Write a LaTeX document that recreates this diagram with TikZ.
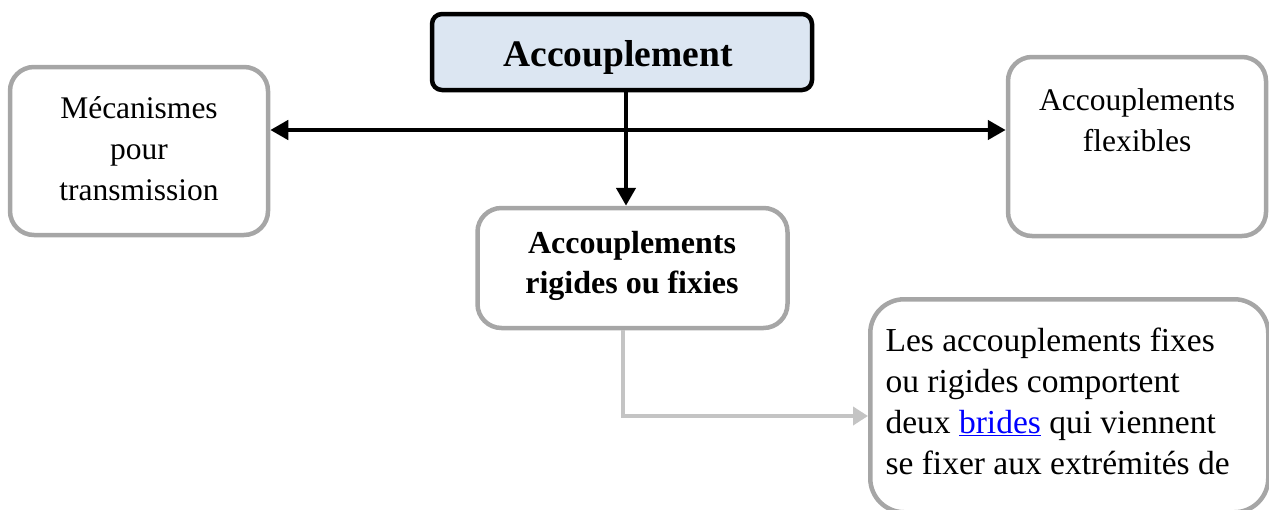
\documentclass[tikz,border=0pt]{standalone}
\usepackage{fontspec}
\setmainfont{Liberation Serif}
\usetikzlibrary{arrows.meta}
\definecolor{boxgray}{HTML}{A6A6A6}
\definecolor{linkgray}{HTML}{C4C4C4}
\definecolor{headblue}{HTML}{DCE6F2}
\begin{document}
\begin{tikzpicture}[x=1pt,y=-1pt,
  grayframe/.style={draw=boxgray,line width=4.5pt,rounded corners=24pt},
  txt/.style={font=\fontsize{31.5}{41}\selectfont,align=center},
  blackarrow/.style={line width=4.5pt,-{Triangle[length=18pt,width=19pt]}},
  grayarrow/.style={draw=linkgray,line width=4.5pt,-{Triangle[length=15pt,width=18pt]}}]
\useasboundingbox (0,0) rectangle (1269,509);
\clip (0,0) rectangle (1269,509);
% header box
\node[draw=black,fill=headblue,line width=4.5pt,rounded corners=10pt,
  minimum width=380pt,minimum height=76pt] (head) at (622,52) {};
\node[font=\bfseries\fontsize{37.5}{44}\selectfont] (headtxt) at (618,57) {Accouplement};
% side boxes
\node[grayframe,minimum width=258pt,minimum height=168pt] (left) at (139,151) {};
\node[txt,anchor=north] (lefttxt) at (139,93) {Mécanismes\\pour\\transmission};
\node[grayframe,minimum width=258pt,minimum height=179pt] (right) at (1137,146.5) {};
\node[txt,anchor=north] (righttxt) at (1137,85) {Accouplements\\flexibles};
% middle box
\node[grayframe,minimum width=310pt,minimum height=120pt] (mid) at (632.5,268) {};
\node[font=\bfseries\fontsize{32}{40}\selectfont,align=center] (midtxt) at (632,266) {Accouplements\\rigides ou fixies};
% description box
\node[grayframe,rounded corners=34pt,minimum width=398pt,minimum height=213pt,anchor=north west] (desc) at (868,297) {};
\node[font=\fontsize{33.5}{41}\selectfont,align=left,anchor=north west] (desctxt) at (882,324)
  {Les accouplements fixes\\ou rigides comportent\\deux \textcolor{blue}{\underline{brides}} qui viennent\\se fixer aux extrémités de};
% connectors
\coordinate (split) at (626,130);
\draw[blackarrow] (split) -- (left.east |- split);
\draw[blackarrow] (split) -- (right.west |- split);
\draw[blackarrow] (head.south -| split) -- (mid.north -| split);
\coordinate (bend) at (623,416);
\draw[grayarrow] (mid.south -| bend) -- (bend) -- (desc.west |- bend);
\end{tikzpicture}
\end{document}
